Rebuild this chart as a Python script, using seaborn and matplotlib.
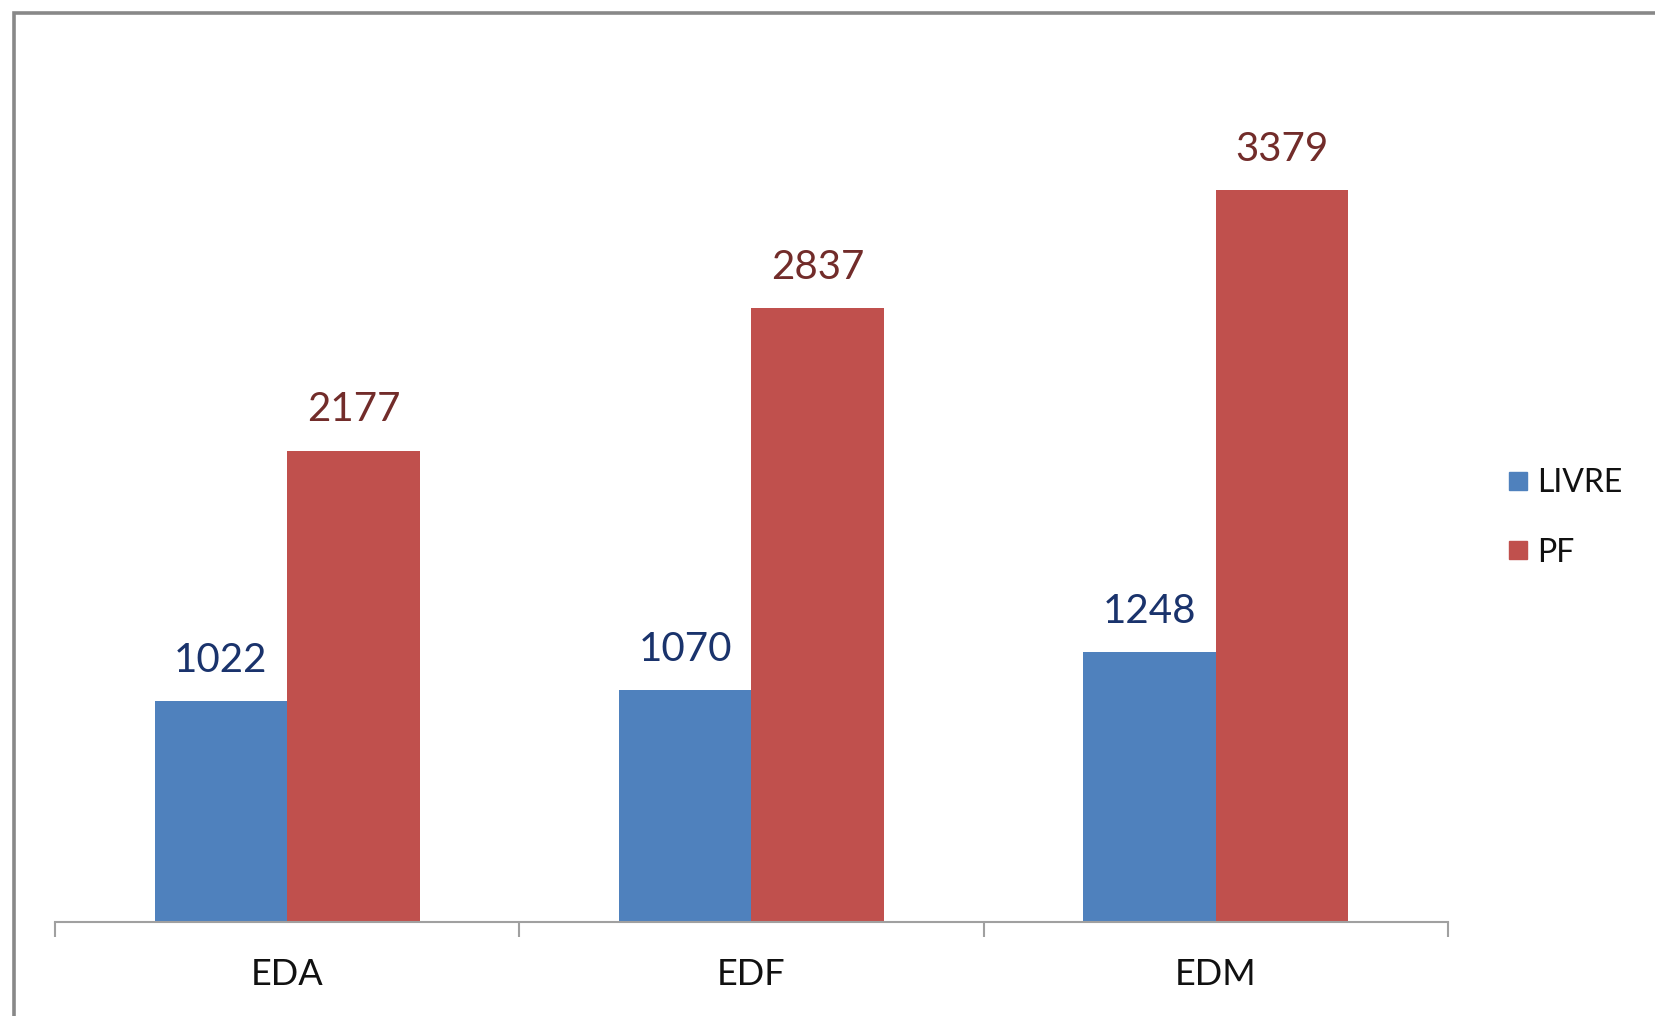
import matplotlib
matplotlib.use("Agg")
import matplotlib.pyplot as plt
from matplotlib.lines import Line2D
from matplotlib.patches import Rectangle
import seaborn as sns
import pandas as pd

categories = ["EDA", "EDF", "EDM"]
series_names = ["LIVRE", "PF"]
livre_values = [1022, 1070, 1248]
pf_values = [2177, 2837, 3379]

bar_colors = ["#4F81BD", "#C0504D"]
label_colors = ["#1A336C", "#722C2A"]

sns.set_theme(style="white")
plt.rcParams["font.family"] = ["Lato", "DejaVu Sans"]

df = pd.DataFrame({
    "cat": categories * 2,
    "series": [series_names[0]] * 3 + [series_names[1]] * 3,
    "value": livre_values + pf_values,
})

W, H = 1655, 1016
fig = plt.figure(figsize=(W / 100, H / 100), dpi=100)
ax = fig.add_axes([55 / W, (H - 922) / H, 1393 / W, 866 / H])

sns.barplot(data=df, x="cat", y="value", hue="series", order=categories,
            hue_order=series_names, palette=bar_colors, width=0.571, gap=0,
            dodge=True, saturation=1, linewidth=0, ax=ax, legend=False)

for cont, col in zip(ax.containers, label_colors):
    ax.bar_label(cont, padding=16, fontsize=29, color=col)

ax.set_ylim(0, 4000)
ax.set_xlim(-0.5, 2.5)
ax.set_xlabel("")
ax.set_ylabel("")
ax.set_yticks([])
for s in ["top", "right", "left"]:
    ax.spines[s].set_visible(False)
ax.spines["bottom"].set_color("#A0A0A0")
ax.spines["bottom"].set_linewidth(1.5)

# category boundary ticks
ax.set_xticks([-0.5, 0.5, 1.5, 2.5], minor=True)
ax.set_xticks(range(len(categories)))
ax.set_xticklabels(categories, fontsize=26, color="#111111")
ax.tick_params(axis="x", which="major", length=0, pad=26)
ax.tick_params(axis="x", which="minor", length=10.5, width=1.5,
               color="#A0A0A0", direction="out", bottom=True)

handles = [Line2D([0], [0], marker="s", linestyle="none", markersize=13,
                  markerfacecolor=c, markeredgecolor=c) for c in bar_colors]
fig.legend(handles, series_names, loc="center left",
           bbox_to_anchor=(1508 / W, (H - 518) / H), frameon=False,
           fontsize=23, handlelength=0.6, handletextpad=0.3,
           labelspacing=1.23, borderpad=0, borderaxespad=0,
           labelcolor="#111111")

fig.patches.append(Rectangle((13.5 / W, -0.1), 1.2, (H - 12.5) / H + 0.1,
                             transform=fig.transFigure, fill=False,
                             edgecolor="#888888", linewidth=2.6))

fig.savefig("out.png", dpi=100)
